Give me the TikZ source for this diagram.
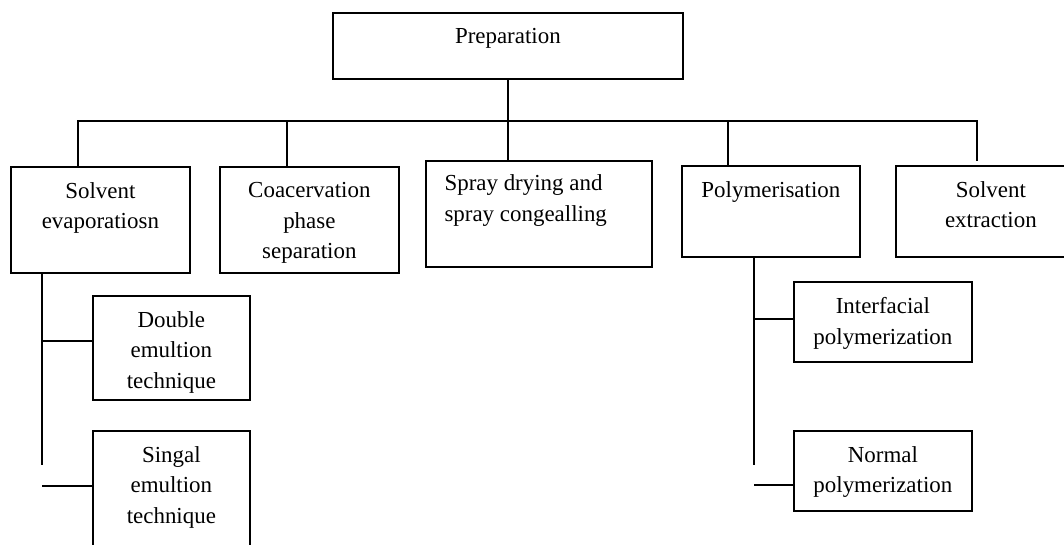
\documentclass[tikz,border=0pt]{standalone}
\usepackage{fontspec}
\setmainfont{Liberation Serif}
\usetikzlibrary{positioning}

\begin{document}
\begin{tikzpicture}[x=0.75pt,y=-0.75pt,line width=1.3pt,
    font=\fontsize{17.2}{23}\selectfont,
    box/.style={draw,anchor=north west,inner sep=0pt},
    lbl/.style={anchor=north,align=center,inner sep=0pt,yshift=-11.5pt},
    lbll/.style={anchor=north west,align=left,inner sep=0pt,xshift=14pt,yshift=-10.5pt}]
   \clip (0,0) rectangle (1064,544);
   % top level
   \node[box,minimum width=262.5pt,minimum height=49.5pt,label={[lbl]north:Preparation}] (prep) at (332,12) {};
   % methods
   \node[box,minimum width=134.25pt,minimum height=79.5pt,label={[lbl]north:Solvent\\evaporatiosn}] (solv) at (10,166) {};
   \node[box,minimum width=134.25pt,minimum height=79.5pt,label={[lbl]north:Coacervation\\phase\\separation}] (coac) at (219,166) {};
   \node[box,minimum width=169.5pt,minimum height=79.5pt,label={[lbll]north west:Spray drying and\\spray congealling}] (spray) at (425,160) {};
   \node[box,minimum width=133.5pt,minimum height=68.25pt,label={[lbl]north:Polymerisation}] (poly) at (681,165) {};
   \node[box,minimum width=142.5pt,minimum height=68.25pt,label={[lbl]north:Solvent\\extraction}] (sext) at (895,165) {};
   % sub methods
   \node[box,minimum width=117.75pt,minimum height=78pt,label={[lbl]north:Double\\emultion\\technique}] (dbl) at (92,295) {};
   \node[box,minimum width=117.75pt,minimum height=90pt,label={[lbl]north:Singal\\emultion\\technique}] (sing) at (92,430) {};
   \node[box,minimum width=133.5pt,minimum height=60pt,label={[lbl]north:Interfacial\\polymerization}] (intf) at (793,281) {};
   \node[box,minimum width=133.5pt,minimum height=60pt,label={[lbl]north:Normal\\polymerization}] (norm) at (793,430) {};
   % bus
   \coordinate (b1) at (78,121);
   \coordinate (b2) at (287,121);
   \coordinate (b4) at (728,121);
   \coordinate (b5) at (977,121);
   \coordinate (e5) at (977,161);
   \draw (prep.south) -- (prep.south |- spray.north);
   \draw (b1 |- solv.north) -- (b1) -- (b5) -- (e5);
   \draw (b2) -- (b2 |- coac.north);
   \draw (b4) -- (b4 |- poly.north);
   % left branch
   \coordinate (l1) at (42,465);
   \coordinate (l2) at (42,486);
   \coordinate (l3) at (42,341);
   \draw (l1 |- solv.south) -- (l1);
   \draw (l3) -- (l3 -| dbl.west);
   \draw (l2) -- (l2 -| sing.west);
   % right branch
   \coordinate (r1) at (754,465);
   \coordinate (r2) at (754,485);
   \coordinate (r3) at (754,319);
   \draw (r1 |- poly.south) -- (r1);
   \draw (r3) -- (r3 -| intf.west);
   \draw (r2) -- (r2 -| norm.west);
\end{tikzpicture}
\end{document}
